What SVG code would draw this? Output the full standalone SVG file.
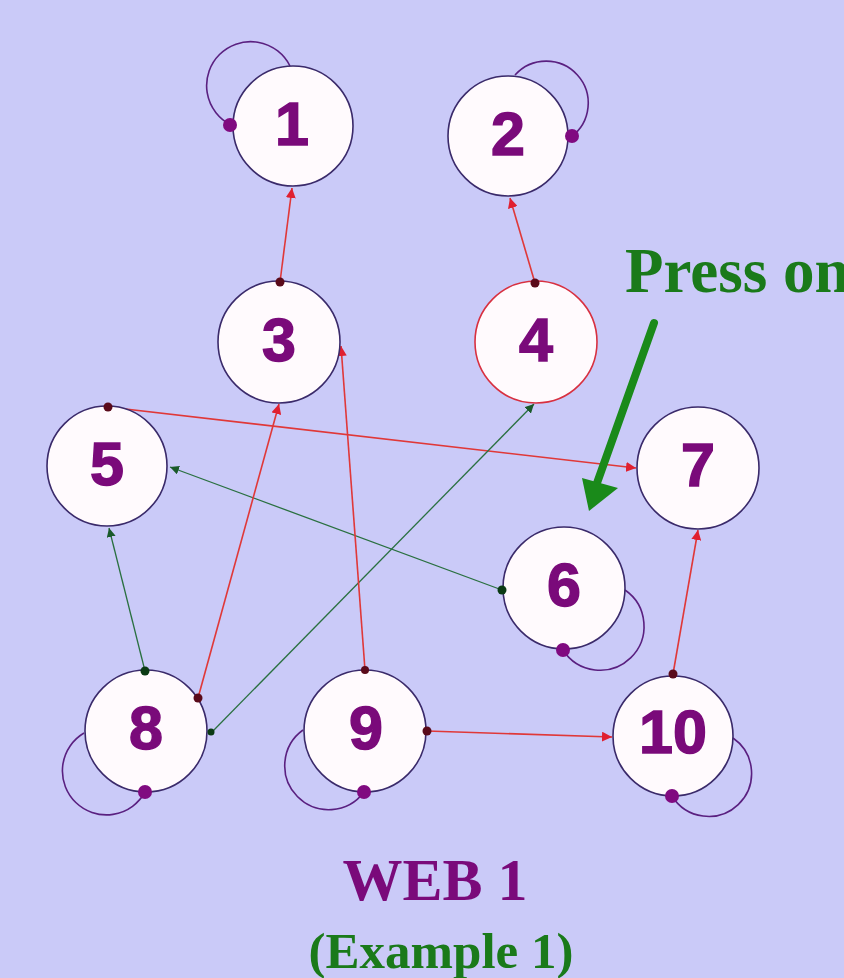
<svg xmlns="http://www.w3.org/2000/svg" width="844" height="978" viewBox="0 0 844 978">
  <style>
    .bg { fill: #cacaf8; }
    .node circle { fill: #fffafd; stroke: #3a2a6a; stroke-width: 1.6; }
    .node.hot circle { stroke: #d83040; }
    .node text { font-family: "Liberation Sans", Arial, sans-serif; font-weight: bold; font-size: 61px; fill: #7a0a7a; stroke: #7a0a7a; stroke-width: 1.5; text-anchor: middle; }
    .red { stroke: #e03838; stroke-width: 1.6; fill: none; marker-end: url(#arrRed); }
    .grn { stroke: #2a7040; stroke-width: 1.3; fill: none; marker-end: url(#arrGrn); }
    .loop { stroke: #5a2080; stroke-width: 1.6; fill: none; }
    .loopdot { fill: #800a80; }
    .srcRed { fill: #5a0a1a; }
    .srcGrn { fill: #0a3a14; }
    .serif { font-family: "Liberation Serif", "Times New Roman", serif; font-weight: bold; }
  </style>
  <defs>
    <marker id="arrRed" viewBox="0 0 10 10" refX="10" refY="5" markerWidth="10" markerHeight="10" markerUnits="userSpaceOnUse" orient="auto">
      <path d="M0,0 L10,5 L0,10 z" fill="#e02030"/>
    </marker>
    <marker id="arrGrn" viewBox="0 0 10 10" refX="10" refY="5" markerWidth="9" markerHeight="9" markerUnits="userSpaceOnUse" orient="auto">
      <path d="M0,0 L10,5 L0,10 z" fill="#1a5a2a"/>
    </marker>
  </defs>

  <rect class="bg" x="0" y="0" width="844" height="978"/>

  <!-- connectors: arrowhead marks the target -->
  <g id="connectors">
    <line class="red" x1="280" y1="282" x2="292" y2="188"/>
    <line class="red" x1="535" y1="283" x2="510" y2="198"/>
    <line class="red" x1="108" y1="407" x2="636" y2="468"/>
    <line class="grn" x1="502" y1="590" x2="170" y2="467"/>
    <line class="grn" x1="145" y1="671" x2="109" y2="528"/>
    <line class="red" x1="198" y1="698" x2="279" y2="404"/>
    <line class="grn" x1="212" y1="732" x2="534" y2="404"/>
    <line class="red" x1="365" y1="670" x2="341" y2="346"/>
    <line class="red" x1="427" y1="731" x2="612" y2="737"/>
    <line class="red" x1="673" y1="674" x2="698" y2="530"/>
  </g>

  <!-- self loops -->
  <g id="loops">
    <path class="loop" d="M290,66 A44,44 0 1 0 231,125"/>
    <path class="loop" d="M515,75 A42,42 0 1 1 571,137"/>
    <path class="loop" d="M625,590 A44,44 0 1 1 563,650"/>
    <path class="loop" d="M84,733 A44,44 0 1 0 145,792"/>
    <path class="loop" d="M303,730 A44,44 0 1 0 364,792"/>
    <path class="loop" d="M733,738 A43,43 0 1 1 672,796"/>
  </g>

  <g id="node1" class="node"><circle cx="293" cy="126" r="60"/><text x="292" y="145">1</text></g>
  <g id="node2" class="node"><circle cx="508" cy="136" r="60"/><text x="508" y="155">2</text></g>
  <g id="node3" class="node"><circle cx="279" cy="342" r="61"/><text x="279" y="361">3</text></g>
  <g id="node4" class="node hot"><circle cx="536" cy="342" r="61"/><text x="536" y="361">4</text></g>
  <g id="node5" class="node"><circle cx="107" cy="466" r="60"/><text x="107" y="485">5</text></g>
  <g id="node6" class="node"><circle cx="564" cy="588" r="61"/><text x="564" y="606">6</text></g>
  <g id="node7" class="node"><circle cx="698" cy="468" r="61"/><text x="698" y="486">7</text></g>
  <g id="node8" class="node"><circle cx="146" cy="731" r="61"/><text x="146" y="749">8</text></g>
  <g id="node9" class="node"><circle cx="365" cy="731" r="61"/><text x="366" y="749">9</text></g>
  <g id="node10" class="node"><circle cx="673" cy="736" r="60"/><text x="673" y="753">10</text></g>

  <!-- source dots of the connectors, on top of the node rims -->
  <g id="source-dots">
    <circle class="srcRed" cx="280" cy="282" r="4.5"/>
    <circle class="srcRed" cx="535" cy="283" r="4.5"/>
    <circle class="srcRed" cx="108" cy="407" r="4.5"/>
    <circle class="srcGrn" cx="502" cy="590" r="4.5"/>
    <circle class="srcGrn" cx="145" cy="671" r="4.5"/>
    <circle class="srcRed" cx="198" cy="698" r="4.5"/>
    <circle class="srcGrn" cx="211" cy="732" r="3.5"/>
    <circle class="srcRed" cx="365" cy="670" r="4"/>
    <circle class="srcRed" cx="427" cy="731" r="4.5"/>
    <circle class="srcRed" cx="673" cy="674" r="4.5"/>
  </g>

  <!-- loop end dots drawn over the node rims -->
  <g id="loop-dots">
    <circle class="loopdot" cx="230" cy="125" r="7"/>
    <circle class="loopdot" cx="572" cy="136" r="7"/>
    <circle class="loopdot" cx="563" cy="650" r="7"/>
    <circle class="loopdot" cx="145" cy="792" r="7"/>
    <circle class="loopdot" cx="364" cy="792" r="7"/>
    <circle class="loopdot" cx="672" cy="796" r="7"/>
  </g>

  <!-- hint -->
  <text class="serif" x="625" y="292" font-size="63" fill="#1a7a1a">Press on</text>
  <g id="hint-arrow">
    <line x1="654" y1="323" x2="597" y2="483" stroke="#1a8a1a" stroke-width="8" stroke-linecap="round"/>
    <polygon points="582,478 618,488 589,511" fill="#1a8a1a"/>
  </g>

  <text class="serif" x="435" y="900" font-size="60" fill="#7a0a7a" text-anchor="middle">WEB 1</text>
  <text class="serif" x="441" y="968" font-size="51" fill="#1a7a1a" text-anchor="middle">(Example 1)</text>
</svg>
